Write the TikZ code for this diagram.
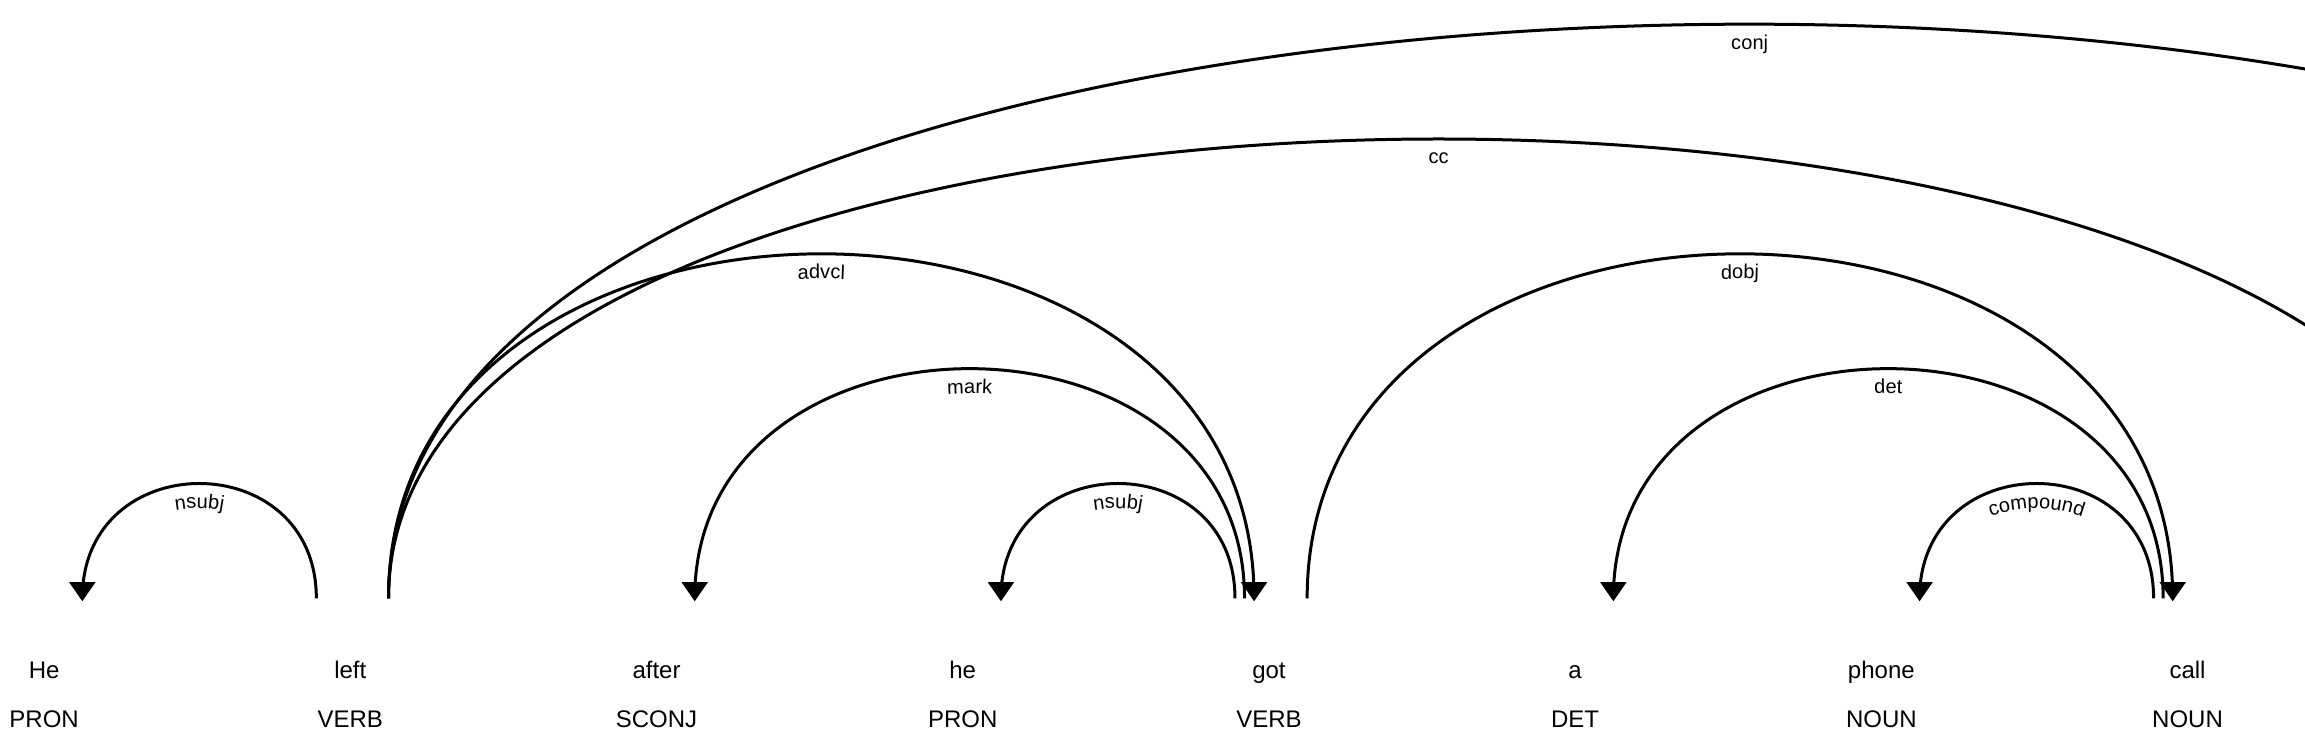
\documentclass[tikz,border=0pt]{standalone}
\usepackage{fontspec}
\setmainfont{Liberation Sans}
\usetikzlibrary{calc,decorations.text}
\newcommand{\lblfont}{\fontsize{10pt}{12pt}\selectfont}
\newcommand{\deparc}[5]{%
  \coordinate (s#1#2) at ($(k#1)+(27,0)$);
  \coordinate (e#1#2) at ($(k#2)+({-6.5*(4.4-#3)},0)$);
  \draw[arcline]
    (s#1#2) .. controls ($(s#1#2)+(0,{-104.15*#3})$) and ($(e#1#2)+(0,{-104.15*#3})$) .. (e#1#2);
  \path[decorate, decoration={text along path, text={|\lblfont|#4}, text align=center}]
    ($(s#1#2)+(0,17)$) .. controls ($(s#1#2)+(0,{17-104.15*#3})$) and ($(e#1#2)+(0,{17-104.15*#3})$) .. ($(e#1#2)+(0,17)$);
  \fill[tiphead] (#5#1#2) ++(0,2) -- ++(-9,-13) -- ++(18,0) -- cycle;
}
\begin{document}
\begin{tikzpicture}[x=0.735pt,y=-0.735pt,
  word/.style={anchor=base, inner sep=0pt, font=\fontsize{12pt}{14pt}\selectfont},
  arcline/.style={line width=1.5pt, black},
  tiphead/.style={fill=black}]
\useasboundingbox (0,0) rectangle (1568,505);
\clip (0,0) rectangle (1568,505);
\foreach \i/\w/\t in {0/He/PRON,1/left/VERB,2/after/SCONJ,3/he/PRON,4/got/VERB,5/a/DET,6/phone/NOUN,7/call/NOUN}{
  \node[word] (w\i) at ({30+208.3*\i},461.5) {\w};
  \node[word] (t\i) at ({30+208.3*\i},495) {\t};
}
\foreach \i in {0,...,10}{ \coordinate (k\i) at ({29+208.3*\i},407); }
\deparc{0}{1}{1}{nsubj}{s}
\deparc{1}{10}{5}{conj}{e}
\deparc{1}{8}{4}{cc}{e}
\deparc{1}{4}{3}{advcl}{e}
\deparc{2}{4}{2}{mark}{s}
\deparc{3}{4}{1}{nsubj}{s}
\deparc{4}{7}{3}{dobj}{e}
\deparc{5}{7}{2}{det}{s}
\deparc{6}{7}{1}{compound}{s}
\end{tikzpicture}
\end{document}
